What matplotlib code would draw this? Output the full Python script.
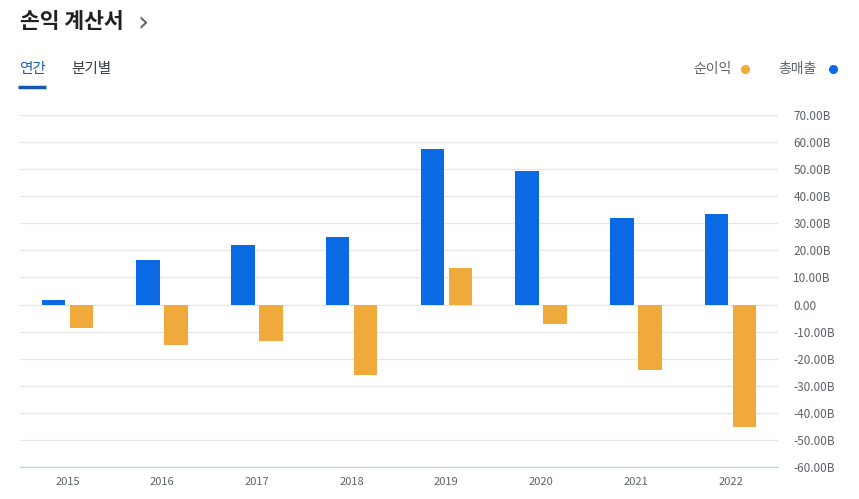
import matplotlib.pyplot as plt
import numpy as np

plt.rcParams['font.family'] = ['Noto Sans CJK KR', 'DejaVu Sans']

years = ["2015", "2016", "2017", "2018", "2019", "2020", "2021", "2022"]
revenue = [1.8, 16.6, 22.1, 25.1, 57.4, 49.4, 32.1, 33.6]      # 총매출 (B)
net_income = [-8.5, -15.1, -13.3, -26.2, 13.6, -7.2, -24.0, -45.4]  # 순이익 (B)
yticks = list(range(-60, 80, 10))

blue = "#0b6ae3"
orange = "#f0a93b"

fig = plt.figure(figsize=(8.59, 4.99), dpi=100)
ax = fig.add_axes([20 / 859, 1 - 467 / 499, 758 / 859, (467 - 115) / 499])

x = np.arange(len(years))
w = 0.25
gap = 0.045
ax.bar(x - (w + gap) / 2, revenue, width=w, color=blue, zorder=3)
ax.bar(x + (w + gap) / 2, net_income, width=w, color=orange, zorder=3)

ax.set_xlim(-0.5, len(years) - 0.5)
ax.set_ylim(-60, 70)
ax.set_yticks(yticks)
ax.set_yticklabels([("0.00" if v == 0 else f"{v:.2f}B") for v in yticks])
ax.yaxis.tick_right()
ax.tick_params(axis="y", length=0, pad=11, labelsize=8.5, labelcolor="#5f6368")
ax.set_xticks(x)
ax.set_xticklabels(years)
ax.tick_params(axis="x", length=0, pad=7, labelsize=8, labelcolor="#5f6368")
ax.grid(axis="y", color="#e6e6e6", linewidth=0.9, zorder=0)
for s in ["left", "right", "top"]:
    ax.spines[s].set_visible(False)
ax.spines["bottom"].set_color("#c5d3e8")
ax.spines["bottom"].set_linewidth(1)
ax.spines["bottom"].set_zorder(4)

# header
fig.text(20 / 859, 1 - 22 / 499, "손익 계산서", fontsize=15.5, fontweight="bold",
         color="#202124", va="center", ha="left")
fig.text(137 / 859, 1 - 23 / 499, "›", fontsize=20, color="#5f6368",
         va="center", ha="left", family=["DejaVu Sans"])

fig.text(19 / 859, 1 - 69 / 499, "연간", fontsize=10.5, color="#1a5cb0",
         va="center", ha="left", fontweight="medium")
fig.text(71 / 859, 1 - 69 / 499, "분기별", fontsize=10.5, color="#3c4043",
         va="center", ha="left", fontweight="medium")
fig.add_artist(plt.Line2D([18 / 859, 46 / 859], [1 - 87 / 499, 1 - 87 / 499],
                          color="#1558b0", linewidth=2.5, solid_capstyle="butt"))

# legend
fig.text(732 / 859, 1 - 69 / 499, "순이익", fontsize=10, color="#5f6368",
         va="center", ha="right")
fig.add_artist(plt.Line2D([745 / 859], [1 - 69 / 499], marker="o", markersize=5.5,
                          color=orange, linestyle="none"))
fig.text(817 / 859, 1 - 69 / 499, "총매출", fontsize=10, color="#5f6368",
         va="center", ha="right")
fig.add_artist(plt.Line2D([833 / 859], [1 - 69 / 499], marker="o", markersize=5.5,
                          color=blue, linestyle="none"))

fig.savefig("out.png", dpi=100)
